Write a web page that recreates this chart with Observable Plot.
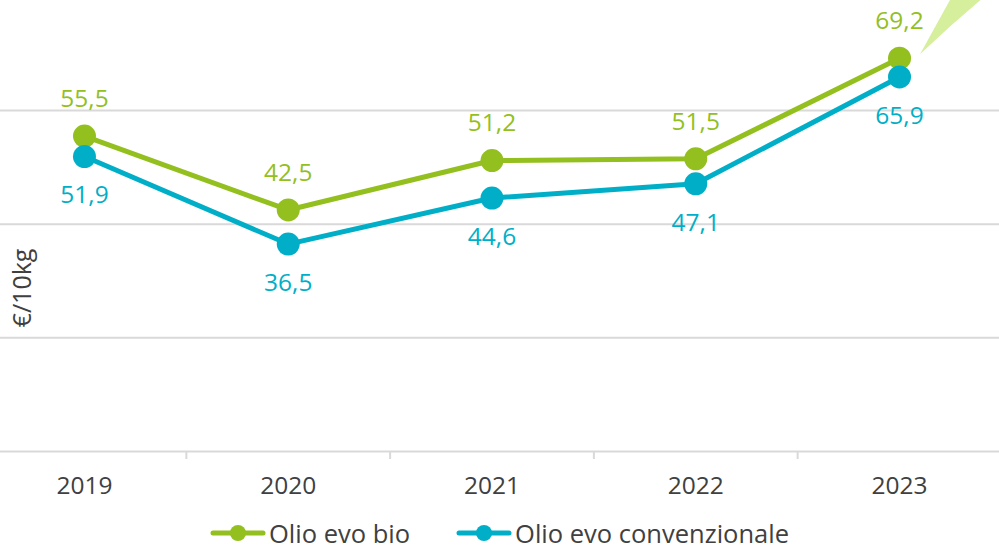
<!DOCTYPE html>
<html>
<head>
<meta charset="utf-8">
<script src="https://cdn.jsdelivr.net/npm/d3@7"></script>
<script src="https://cdn.jsdelivr.net/npm/@observablehq/plot@0.6"></script>
<style>
  html, body { margin: 0; padding: 0; background: #fff; }
  #chart { width: 999px; height: 552px; position: relative; overflow: hidden; font-family: "Open Sans", sans-serif; }
  #legend { display: flex; justify-content: center; align-items: center; gap: 46px; height: 38px; font-size: 25.5px; line-height: 30px; color: #404040; margin-top: 4px; }
  .item { display: flex; align-items: center; gap: 3px; }
</style>
</head>
<body>
<div id="chart"></div>
<script>
const years = [2019, 2020, 2021, 2022, 2023];
const seriesNames = ["Olio evo bio", "Olio evo convenzionale"];
const bio = [55.5, 42.5, 51.2, 51.5, 69.2];
const conv = [51.9, 36.5, 44.6, 47.1, 65.9];
const gridValues = [0, 20, 40, 60];
const yLabel = "€/10kg";
// decorative callout wedge (data coordinates)
const wedgeX = [2023.103, 2023.25, 2023.40];
const wedgeTop = [69.8, 79.36, 79.36];
const wedgeBottom = [69.8, 74.7, 79.36];

const colors = ["#93c01f", "#00afc7"];
const fmt = v => v.toFixed(1).replace(".", ",");

const bioData = years.map((y, i) => ({year: y, value: bio[i]}));
const convData = years.map((y, i) => ({year: y, value: conv[i]}));
const wedge = wedgeX.map((x, i) => ({x, y1: wedgeTop[i], y2: wedgeBottom[i]}));
const boundaries = years.slice(0, -1).map(y => y + 0.5);

const W = 999, H = 510;
const plot = Plot.plot({
  width: W,
  height: H,
  marginTop: 0,
  marginLeft: 0,
  marginRight: 0,
  marginBottom: 59,
  style: {fontFamily: "Open Sans, sans-serif", background: "transparent", overflow: "visible"},
  x: {type: "linear", domain: [2018.5, 2023.5], range: [-17.9, 1000.9]},
  y: {domain: [0, 79.36], axis: null},
  marks: [
    Plot.ruleY(gridValues, {stroke: "#d9d9d9", strokeWidth: 2}),
    Plot.areaY(wedge, {x: "x", y1: "y1", y2: "y2", fill: "#d6ef9c", clip: true}),
    Plot.axisX({ticks: boundaries, tickSize: 8, tickFormat: () => "", stroke: "#d9d9d9", strokeWidth: 2}),
    Plot.axisX({ticks: years, tickSize: 0, tickPadding: 25, tickFormat: d => String(d), fontSize: 24.5, fill: "#404040", label: null}),
    Plot.line(bioData, {x: "year", y: "value", stroke: colors[0], strokeWidth: 5}),
    Plot.dot(bioData, {x: "year", y: "value", fill: colors[0], r: 11.5}),
    Plot.line(convData, {x: "year", y: "value", stroke: colors[1], strokeWidth: 5}),
    Plot.dot(convData, {x: "year", y: "value", fill: colors[1], r: 11.5}),
    Plot.text(bioData, {x: "year", y: "value", text: d => fmt(d.value), dy: -37, fill: colors[0], fontSize: 24.5}),
    Plot.text(convData, {x: "year", y: "value", text: d => fmt(d.value), dy: 39, fill: colors[1], fontSize: 24.5}),
    Plot.text([yLabel], {frameAnchor: "left", textAnchor: "middle", dx: 22, dy: 62, rotate: -90, fill: "#404040", fontSize: 25})
  ]
});
document.getElementById("chart").appendChild(plot);

const legend = document.createElement("div");
legend.id = "legend";
seriesNames.forEach((name, i) => {
  const item = document.createElement("div");
  item.className = "item";
  item.innerHTML = `<svg width="56" height="20"><line x1="3" y1="10" x2="53" y2="10" stroke="${colors[i]}" stroke-width="5" stroke-linecap="round"/><circle cx="28" cy="10" r="8" fill="${colors[i]}"/></svg><span>${name}</span>`;
  legend.appendChild(item);
});
document.getElementById("chart").appendChild(legend);
</script>
</body>
</html>
